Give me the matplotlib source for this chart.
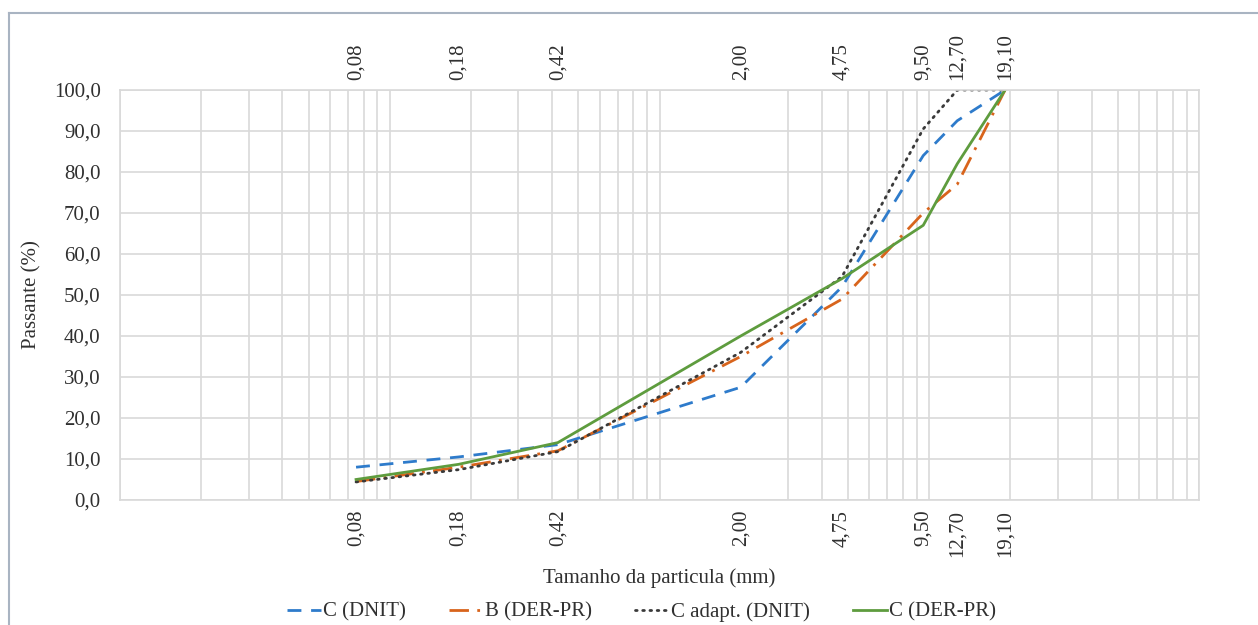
import matplotlib
matplotlib.use("Agg")
import matplotlib.pyplot as plt
from matplotlib.ticker import LogLocator, NullFormatter, FixedLocator, FixedFormatter
from matplotlib.lines import Line2D

plt.rcParams['font.family'] = ['Liberation Serif', 'DejaVu Serif']

# sieve openings (mm) and labels shown on the chart
sizes = [0.075, 0.18, 0.42, 2.0, 4.75, 9.5, 12.7, 19.1]
size_labels = ['0,08', '0,18', '0,42', '2,00', '4,75', '9,50', '12,70', '19,10']

# percent passing
c_dnit = [8.0, 10.5, 13.5, 27.5, 52.0, 84.0, 92.5, 100.0]
b_derpr = [4.5, 8.0, 12.0, 35.0, 49.0, 70.0, 77.0, 100.0]
c_adapt_dnit = [4.4, 7.4, 11.8, 36.0, 54.5, 90.5, 100.0, 100.0]
c_derpr = [5.0, 8.7, 14.0, 40.0, 54.0, 67.0, 82.0, 100.0]

fig = plt.figure(figsize=(12.58, 6.25), dpi=100)
ax = fig.add_axes([120/1258, 1-500/625, (1199-120)/1258, (500-90)/625])

lw = 2.0
ax.plot(sizes, c_dnit, color='#2E7BCB', lw=lw, dashes=(5, 3.5), label='C (DNIT)')
ax.plot(sizes, b_derpr, color='#D8641C', lw=lw, dashes=(7, 3, 1, 3), label='B (DER-PR)')
ax.plot(sizes, c_adapt_dnit, color='#3a3a3a', lw=lw, dashes=(0.6, 2.0),
        dash_capstyle='round', label='C adapt. (DNIT)')
ax.plot(sizes, c_derpr, color='#5E9C3E', lw=lw, label='C (DER-PR)')

ax.set_xscale('log')
ax.set_xlim(0.01, 100)
ax.set_ylim(0, 100)

ax.xaxis.set_major_locator(FixedLocator(sizes))
ax.xaxis.set_major_formatter(FixedFormatter(size_labels))
ax.xaxis.set_minor_locator(LogLocator(base=10, subs=range(1, 10), numticks=20))
ax.xaxis.set_minor_formatter(NullFormatter())
ax.set_yticks(range(0, 101, 10))
ax.set_yticklabels([f"{v:.1f}".replace('.', ',') for v in range(0, 101, 10)])

fs = 15
txt_col = '#303030'
ax.tick_params(axis='x', which='major', labelrotation=90, labeltop=True, length=0,
               labelsize=fs, pad=7, colors=txt_col)
ax.tick_params(axis='x', which='minor', length=0)
ax.tick_params(axis='y', length=0, labelsize=fs, pad=14, colors=txt_col)

grid_col = '#d9d9d9'
ax.xaxis.grid(True, which='minor', color=grid_col, lw=1.2)
ax.xaxis.grid(False, which='major')
ax.yaxis.grid(True, which='major', color=grid_col, lw=1.2)
ax.set_axisbelow(True)
for s in ax.spines.values():
    s.set_color(grid_col)
    s.set_linewidth(1.2)

ax.set_xlabel('Tamanho da particula (mm)', fontsize=fs, color=txt_col, labelpad=8)
ax.set_ylabel('Passante (%)', fontsize=fs, color=txt_col, labelpad=9)

fig.legend(loc='center', bbox_to_anchor=(0.510, 1-612/625), ncol=4, frameon=False,
           fontsize=fs, handlelength=1.6, handletextpad=0.1, columnspacing=2.1,
           labelcolor=txt_col)

# chart frame (top and left edges visible)
fig.add_artist(Line2D([9/1258, 1], [1-13/625, 1-13/625], color='#A9B4C2', lw=1.5))
fig.add_artist(Line2D([9/1258, 9/1258], [0, 1-13/625], color='#A9B4C2', lw=1.5))

fig.savefig('out.png', dpi=100)
